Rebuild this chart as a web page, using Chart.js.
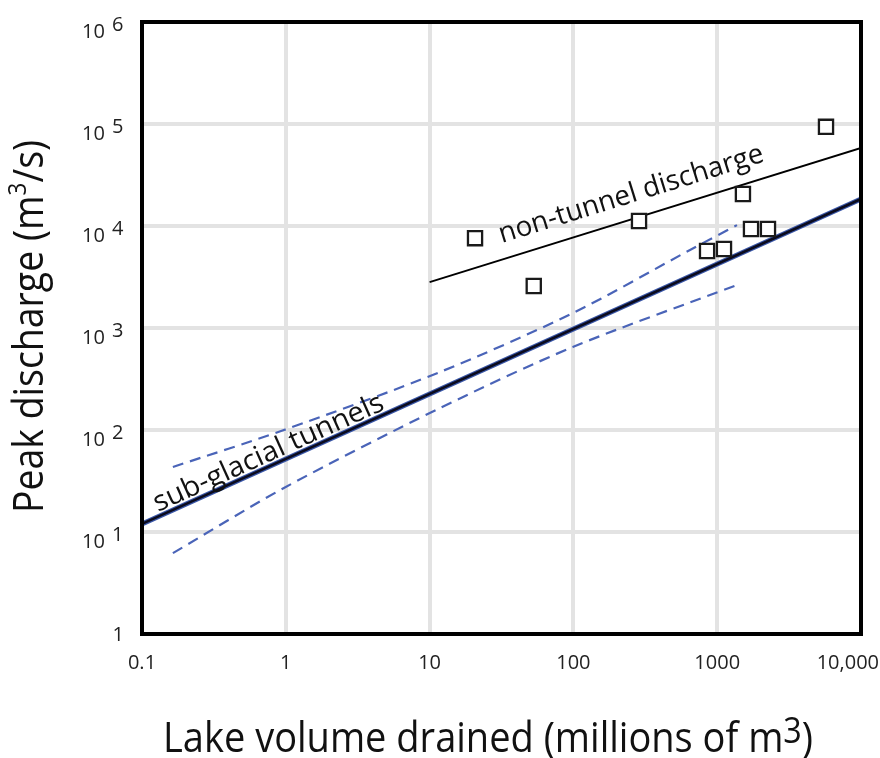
<!DOCTYPE html>
<html lang="en">
<head>
  <meta charset="UTF-8">
  <title>Peak discharge vs lake volume drained</title>
  <script src="https://cdn.jsdelivr.net/npm/chart.js"></script>
  <style>
    html, body { margin: 0; padding: 0; background: #fff; }
    #wrap { width: 880px; height: 758px; }
  </style>
</head>
<body>
  <div id="wrap"><canvas id="chart" width="880" height="758"></canvas></div>

  <script>
    // observed floods (open squares)
    const volObs  = [20.7, 53, 286, 850, 1115, 1510, 1718, 2255, 5710];
    const peakObs = [7600, 2580, 11200, 5690, 5950, 20600, 9340, 9340, 93800];

    // sub-glacial tunnel fit
    const tunnelVol  = [0.1, 10000];
    const tunnelPeak = [12, 18400];

    // dashed band around the tunnel fit
    const upperVol  = [0.164, 0.97, 11.8, 99, 647, 1373];
    const upperPeak = [43.4, 100, 370, 1400, 5820, 10200];
    const lowerVol  = [0.164, 0.97, 11.8, 99, 1373];
    const lowerPeak = [6.2, 27, 164, 651, 2640];

    // non-tunnel discharge line
    const nonTunnelVol  = [10, 10000];
    const nonTunnelPeak = [2820, 58200];

    // ticks
    const xTicks = [0.1, 1, 10, 100, 1000, 10000];
    const xTickLabels = ["0.1", "1", "10", "100", "1000", "10,000"];
    const yTicks = [1, 10, 100, 1000, 10000, 100000, 1000000];
    const yTickExps = ["", "1", "2", "3", "4", "5", "6"];

    // where the line labels start (data coords)
    const nonTunnelLabelAt = [31.8, 6810];
    const tunnelLabelAt = [0.129, 15.7];

    const FONT = '"Open Sans", "Noto Sans", sans-serif';

    function pts(xs, ys) {
      return xs.map((x, i) => ({ x: x, y: ys[i] }));
    }

    // draws text made of parts [text, sizeFactor, riseFactor], squeezed to width w
    function richText(ctx, parts, size, w) {
      let natural = 0;
      parts.forEach(p => {
        ctx.font = (size * p[1]) + "px " + FONT;
        natural += ctx.measureText(p[0]).width;
      });
      const sx = w ? w / natural : 1;
      ctx.save();
      ctx.scale(sx, 1);
      ctx.textAlign = "left";
      ctx.textBaseline = "alphabetic";
      let x = 0;
      parts.forEach(p => {
        ctx.font = (size * p[1]) + "px " + FONT;
        ctx.fillText(p[0], x, -p[2] * size);
        x += ctx.measureText(p[0]).width;
      });
      ctx.restore();
    }

    function lineLabel(chart, text, at, xs, ys, size, w) {
      const sx = chart.scales.x, sy = chart.scales.y;
      const ctx = chart.ctx;
      const x1 = sx.getPixelForValue(xs[0]), y1 = sy.getPixelForValue(ys[0]);
      const x2 = sx.getPixelForValue(xs[1]), y2 = sy.getPixelForValue(ys[1]);
      const ang = Math.atan2(y2 - y1, x2 - x1);
      ctx.save();
      ctx.translate(sx.getPixelForValue(at[0]), sy.getPixelForValue(at[1]));
      ctx.rotate(ang);
      ctx.fillStyle = "#111";
      richText(ctx, [[text, 1, 0]], size, w);
      ctx.restore();
    }

    const decorations = {
      id: "decorations",
      afterDatasetsDraw(chart) {
        const ctx = chart.ctx;
        const a = chart.chartArea;
        const sx = chart.scales.x, sy = chart.scales.y;

        // frame
        ctx.save();
        ctx.strokeStyle = "#000";
        ctx.lineWidth = 4;
        ctx.strokeRect(a.left, a.top, a.right - a.left, a.bottom - a.top);
        ctx.restore();

        // line labels
        lineLabel(chart, "non-tunnel discharge", nonTunnelLabelAt, nonTunnelVol, nonTunnelPeak, 28, 276);
        lineLabel(chart, "sub-glacial tunnels", tunnelLabelAt, tunnelVol, tunnelPeak, 28, 250);

        ctx.save();
        ctx.fillStyle = "#222";
        ctx.textBaseline = "alphabetic";

        // y tick labels
        yTicks.forEach((v, i) => {
          const py = sy.getPixelForValue(v);
          ctx.font = "20px " + FONT;
          if (yTickExps[i] === "") {
            ctx.textAlign = "right";
            ctx.fillText("1", 124, py + 7);
          } else {
            ctx.textAlign = "left";
            ctx.fillText("10", 82, py + 16);
            ctx.fillText(yTickExps[i], 112, py + 9);
          }
        });

        // x tick labels
        ctx.font = "20px " + FONT;
        ctx.textAlign = "left";
        xTicks.forEach((v, i) => {
          const px = sx.getPixelForValue(v);
          const w = ctx.measureText(xTickLabels[i]).width;
          let left = px - w / 2;
          if (left + w > chart.width - 1) left = chart.width - 1 - w;
          ctx.fillText(xTickLabels[i], left, a.bottom + 35);
        });
        ctx.restore();

        // axis titles
        ctx.save();
        ctx.fillStyle = "#111";
        ctx.translate(163, 752);
        richText(ctx, [["Lake volume drained (millions of m", 1, 0], ["3", 0.85, 0.22], [")", 1, 0]], 42, 650);
        ctx.restore();

        ctx.save();
        ctx.fillStyle = "#111";
        ctx.translate(43, 513);
        ctx.rotate(-Math.PI / 2);
        richText(ctx, [["Peak discharge (m", 1, 0], ["3", 0.6, 0.4], ["/s)", 1, 0]], 42, 373);
        ctx.restore();
      }
    };

    new Chart(document.getElementById("chart"), {
      type: "scatter",
      data: {
        datasets: [
          {
            label: "Observed floods",
            data: pts(volObs, peakObs),
            pointStyle: "rect",
            pointRadius: 10,
            borderWidth: 2.3,
            borderColor: "#1a1a1a",
            backgroundColor: "#fff"
          },
          {
            label: "sub-glacial tunnels",
            data: pts(tunnelVol, tunnelPeak),
            showLine: true,
            borderColor: "#0b0b1e",
            borderWidth: 2.6,
            pointRadius: 0
          },
          {
            label: "sub-glacial tunnels edge",
            data: pts(tunnelVol, tunnelPeak),
            showLine: true,
            borderColor: "#3a57a8",
            borderWidth: 5,
            pointRadius: 0
          },
          {
            label: "non-tunnel discharge",
            data: pts(nonTunnelVol, nonTunnelPeak),
            showLine: true,
            borderColor: "#000",
            borderWidth: 1.8,
            pointRadius: 0
          },
          {
            label: "upper",
            data: pts(upperVol, upperPeak),
            showLine: true,
            borderColor: "#4a64b8",
            borderWidth: 2.2,
            borderDash: [11, 7],
            tension: 0.3,
            pointRadius: 0
          },
          {
            label: "lower",
            data: pts(lowerVol, lowerPeak),
            showLine: true,
            borderColor: "#4a64b8",
            borderWidth: 2.2,
            borderDash: [11, 7],
            tension: 0.3,
            pointRadius: 0
          }
        ]
      },
      options: {
        responsive: false,
        devicePixelRatio: 1,
        animation: false,
        events: [],
        layout: { padding: { top: 22, right: 19, left: 0, bottom: 0 } },
        plugins: {
          legend: { display: false },
          tooltip: { enabled: false }
        },
        scales: {
          x: {
            type: "logarithmic",
            min: 0.1,
            max: 10000,
            afterBuildTicks: s => { s.ticks = xTicks.map(v => ({ value: v })); },
            afterFit: s => { s.height = 124; },
            ticks: { display: false },
            grid: { color: "#e3e3e3", lineWidth: 4, drawTicks: false },
            border: { display: false }
          },
          y: {
            type: "logarithmic",
            min: 1,
            max: 1000000,
            afterBuildTicks: s => { s.ticks = yTicks.map(v => ({ value: v })); },
            afterFit: s => { s.width = 142; },
            ticks: { display: false },
            grid: { color: "#e3e3e3", lineWidth: 4, drawTicks: false },
            border: { display: false }
          }
        }
      },
      plugins: [decorations]
    });
  </script>
</body>
</html>
